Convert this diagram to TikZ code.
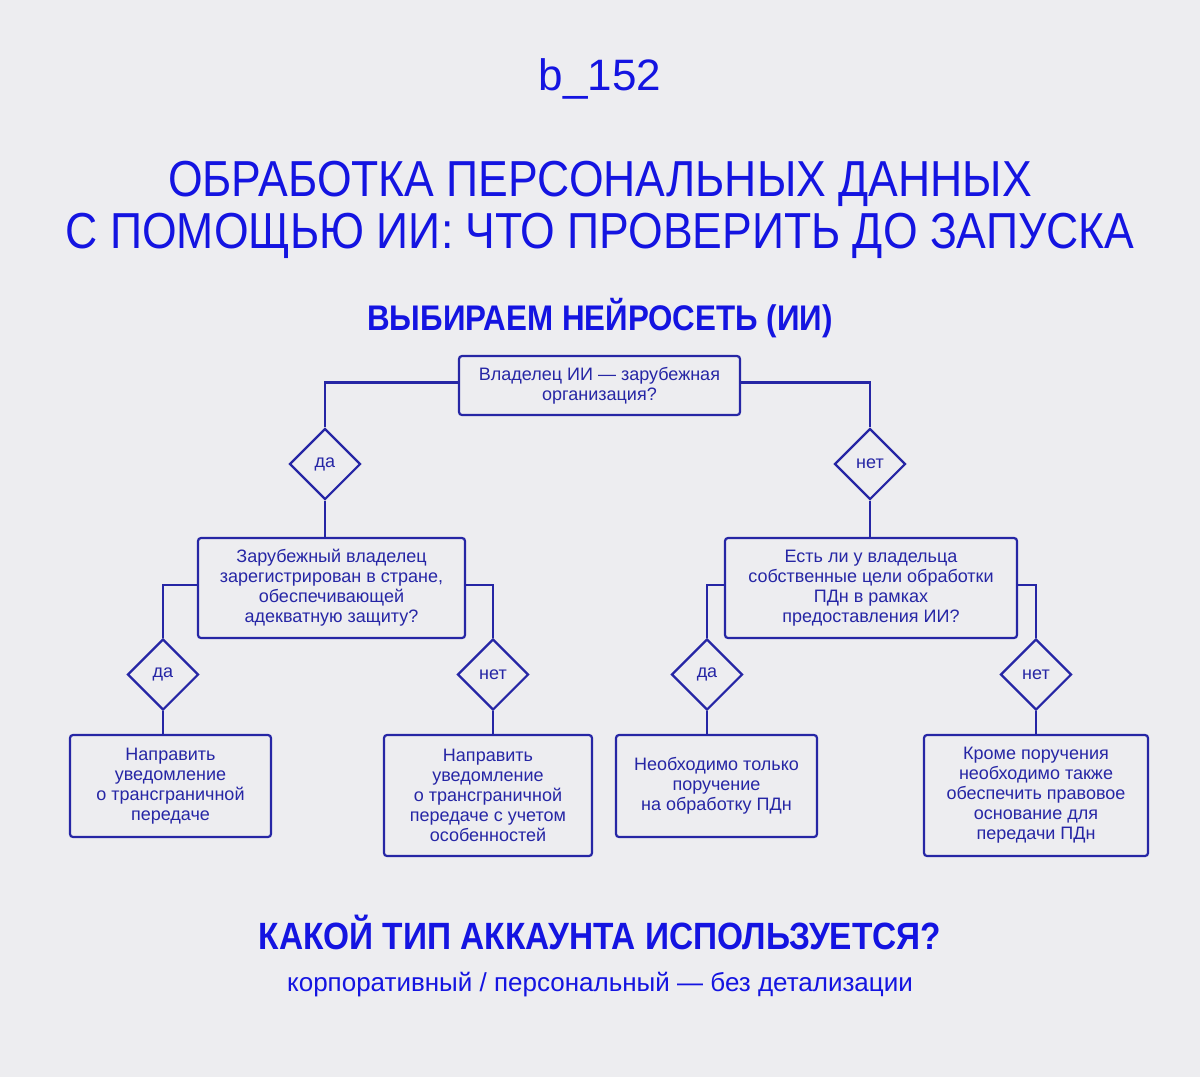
\documentclass[tikz,border=0pt]{standalone}
\usepackage{fontspec}
\setmainfont{Liberation Sans}
\newfontfamily\headfont[FakeStretch=0.88]{Liberation Sans}
\usetikzlibrary{positioning,shapes.geometric}
\definecolor{bgcol}{RGB}{237,237,240}
\definecolor{headblue}{RGB}{20,20,225}
\definecolor{linenavy}{RGB}{38,38,165}

\begin{document}
\begin{tikzpicture}[x=0.5pt, y=-0.5pt,
  every node/.style={font=\fontsize{9}{10}\selectfont, text=linenavy},
  qbox/.style={draw=linenavy, line width=1.1pt, rounded corners=1.5pt, align=center, inner sep=2pt},
  answer/.style={draw=linenavy, line width=1.1pt, diamond, aspect=1, inner sep=0pt, minimum width=35.5pt, minimum height=35.5pt},
  link/.style={draw=linenavy, line width=1.1pt},
  title/.style={text=headblue, anchor=base, font=\headfont\fontsize{25.3}{30}\selectfont},
  heading/.style={text=headblue, anchor=base, font=\headfont\bfseries\fontsize{17.8}{20}\selectfont}]
\fill[bgcol] (0,0) rectangle (1200,1077);

% headings
\node[text=headblue, anchor=base, font=\fontsize{22}{26}\selectfont] (brand) at (600,90) {b\_152};
\node[title] (title1) at (600,196) {ОБРАБОТКА ПЕРСОНАЛЬНЫХ ДАННЫХ};
\node[title] (title2) at (600,248) {С ПОМОЩЬЮ ИИ: ЧТО ПРОВЕРИТЬ ДО ЗАПУСКА};
\node[heading] (choose) at (600,330) {ВЫБИРАЕМ НЕЙРОСЕТЬ (ИИ)};

% questions
\node[qbox, minimum width=140.5pt, minimum height=29.5pt] (owner) at (599.5,385.5) {Владелец ИИ — зарубежная\\организация?};
\node[answer] (yes1) at (325,464) {да};
\node[answer] (no1) at (870,464) {нет};
\node[qbox, minimum width=133.5pt, minimum height=50pt] (adequate) at (331.5,588) {Зарубежный владелец\\зарегистрирован в стране,\\обеспечивающей\\адекватную защиту?};
\node[qbox, minimum width=146pt, minimum height=50pt] (purpose) at (871,588) {Есть ли у владельца\\собственные цели обработки\\ПДн в рамках\\предоставления ИИ?};
\node[answer] (yes2) at (163,674.5) {да};
\node[answer] (no2) at (493,674.5) {нет};
\node[answer] (yes3) at (707,674.5) {да};
\node[answer] (no3) at (1036,674.5) {нет};

% outcomes
\node[qbox, minimum width=100.5pt, minimum height=51pt] (notify) at (170.5,786) {Направить\\уведомление\\о трансграничной\\передаче};
\node[qbox, minimum width=104pt, minimum height=60.5pt] (notifyx) at (488,795.5) {Направить\\уведомление\\о трансграничной\\передаче с учетом\\особенностей};
\node[qbox, minimum width=100.5pt, minimum height=51pt] (order) at (716.5,786) {Необходимо только\\поручение\\на обработку ПДн};
\node[qbox, minimum width=112pt, minimum height=60.5pt] (basis) at (1036,795.5) {Кроме поручения\\необходимо также\\обеспечить правовое\\основание для\\передачи ПДн};

\draw[link] ([yshift=1.5pt]owner.west) -| (yes1.north);
\draw[link] ([yshift=1.5pt]owner.east) -| (no1.north);
\draw[link] (yes1.south) -- (yes1.south |- adequate.north);
\draw[link] (no1.south) -- (no1.south |- purpose.north);
\draw[link] ([yshift=1.5pt]adequate.west) -| (yes2.north);
\draw[link] ([yshift=1.5pt]adequate.east) -| (no2.north);
\draw[link] ([yshift=1.5pt]purpose.west) -| (yes3.north);
\draw[link] ([yshift=1.5pt]purpose.east) -| (no3.north);
\draw[link] (yes2.south) -- (yes2.south |- notify.north);
\draw[link] (no2.south) -- (no2.south |- notifyx.north);
\draw[link] (yes3.south) -- (yes3.south |- order.north);
\draw[link] (no3.south) -- (no3.south |- basis.north);

% account
\node[heading, font=\headfont\bfseries\fontsize{19}{22}\selectfont] (account) at (600,949) {КАКОЙ ТИП АККАУНТА ИСПОЛЬЗУЕТСЯ?};
\node[text=headblue, anchor=base, font=\fontsize{13}{16}\selectfont] (accnote) at (600,991) {корпоративный / персональный — без детализации};
\end{tikzpicture}
\end{document}
